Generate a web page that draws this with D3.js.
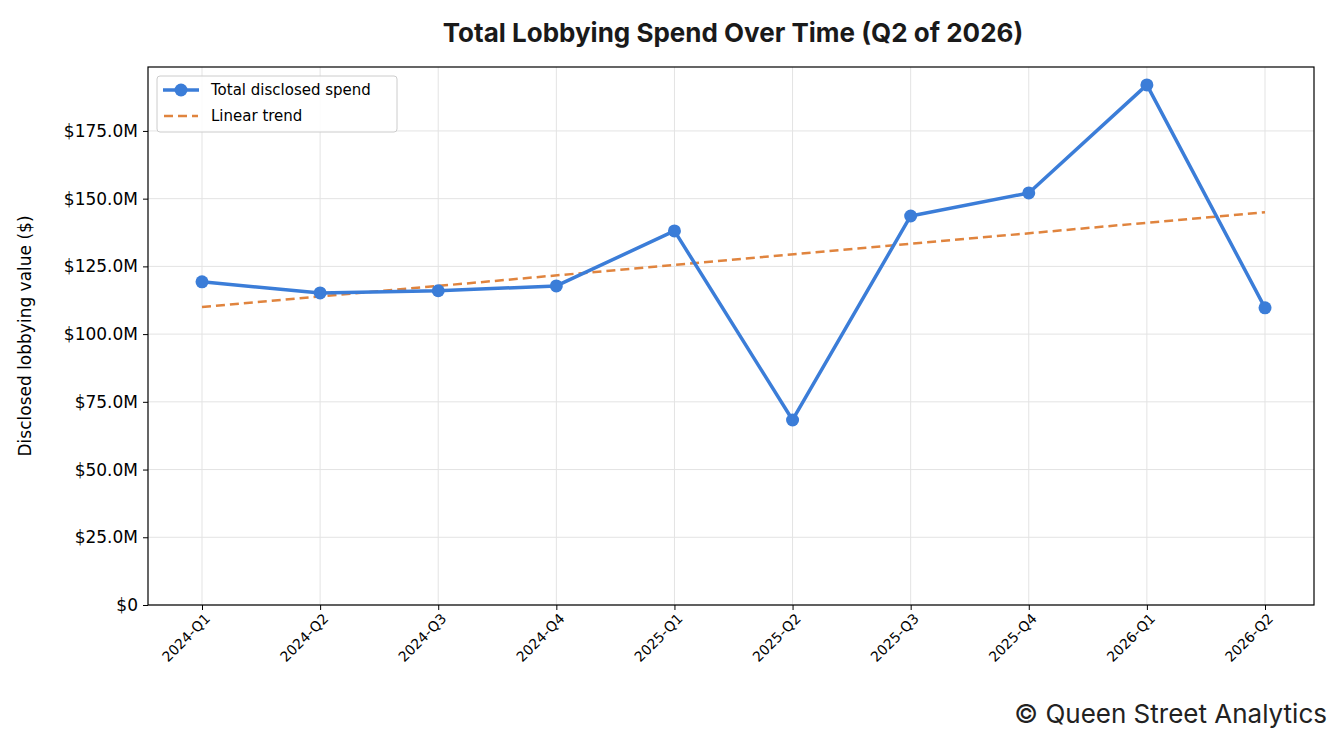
<!DOCTYPE html>
<html><head><meta charset="utf-8">
<script src="https://cdn.jsdelivr.net/npm/d3@7"></script>
<style>body{margin:0;background:#fff}svg{display:block}</style>
</head><body><div id="chart"></div>
<script>
const quarters = ["2024-Q1","2024-Q2","2024-Q3","2024-Q4","2025-Q1","2025-Q2","2025-Q3","2025-Q4","2026-Q1","2026-Q2"];
const spend = [119.3,115.2,116.0,117.8,138.1,68.3,143.6,152.1,192.0,109.7];
const trendEnds = [110.0,145.0];
const yTicks = [0,25,50,75,100,125,150,175];

const W = 1343, H = 745;
const m = {l:148, r:1314, t:67, b:605};
const svg = d3.select("#chart").append("svg").attr("width",W).attr("height",H);
const x = d3.scalePoint().domain(quarters).range([202,1265]);
const y = d3.scaleLinear().domain([0,198.6]).range([m.b,m.t]);
const font = "'DejaVu Sans', 'Bitstream Vera Sans', sans-serif";

// grid
svg.append("g").selectAll("line").data(yTicks).join("line")
  .attr("x1",m.l).attr("x2",m.r).attr("y1",d=>y(d)).attr("y2",d=>y(d))
  .attr("stroke","#e3e3e3").attr("stroke-width",1);
svg.append("g").selectAll("line").data(quarters).join("line")
  .attr("x1",d=>x(d)).attr("x2",d=>x(d)).attr("y1",m.t).attr("y2",m.b)
  .attr("stroke","#e3e3e3").attr("stroke-width",1);

// axes
const yAxis = svg.append("g").attr("transform",`translate(${m.l},0)`)
  .call(d3.axisLeft(y).tickValues(yTicks).tickSize(5).tickPadding(5)
    .tickFormat(d=>d===0?"$0":"$"+d.toFixed(1)+"M"));
yAxis.selectAll("text").style("font-family",font).attr("font-size",17).attr("fill","#000");
const xAxis = svg.append("g").attr("transform",`translate(0,${m.b})`)
  .call(d3.axisBottom(x).tickSize(5));
xAxis.selectAll("text").style("font-family",font).attr("font-size",14).attr("fill","#000")
  .attr("text-anchor","end").attr("dx","-0.3em").attr("dy","0.6em").attr("transform","rotate(-45)");
svg.selectAll(".domain").remove();
svg.selectAll(".tick line").attr("stroke","#000");
svg.append("rect").attr("x",m.l).attr("y",m.t).attr("width",m.r-m.l).attr("height",m.b-m.t)
  .attr("fill","none").attr("stroke","#000").attr("stroke-width",1.2);

// trend
svg.append("line").attr("x1",x(quarters[0])).attr("x2",x(quarters[quarters.length-1]))
  .attr("y1",y(trendEnds[0])).attr("y2",y(trendEnds[1]))
  .attr("stroke","#e0843e").attr("stroke-width",2.5).attr("stroke-dasharray","9,5");

// series
svg.append("path").datum(spend)
  .attr("d",d3.line().x((d,i)=>x(quarters[i])).y(d=>y(d)))
  .attr("fill","none").attr("stroke","#3b7dd8").attr("stroke-width",3.5).attr("stroke-linejoin","round");
svg.append("g").selectAll("circle").data(spend).join("circle")
  .attr("cx",(d,i)=>x(quarters[i])).attr("cy",d=>y(d)).attr("r",6.5).attr("fill","#3b7dd8");

// legend
const lg = svg.append("g");
lg.append("rect").attr("x",157).attr("y",76).attr("width",240).attr("height",56).attr("rx",3)
  .attr("fill","#fff").attr("fill-opacity",0.85).attr("stroke","#ccc");
lg.append("line").attr("x1",163).attr("x2",199).attr("y1",90).attr("y2",90).attr("stroke","#3b7dd8").attr("stroke-width",3.5);
lg.append("circle").attr("cx",181).attr("cy",90).attr("r",6.5).attr("fill","#3b7dd8");
lg.append("line").attr("x1",164).attr("x2",198).attr("y1",116).attr("y2",116).attr("stroke","#e0843e").attr("stroke-width",2.5).attr("stroke-dasharray","9,5");
lg.append("text").attr("x",211).attr("y",95).text("Total disclosed spend").style("font-family",font).attr("font-size",15);
lg.append("text").attr("x",211).attr("y",121).text("Linear trend").style("font-family",font).attr("font-size",15);

// titles
svg.append("text").attr("x",733).attr("y",42).attr("text-anchor","middle")
  .style("font-family","Inter, sans-serif").attr("font-weight",700).attr("font-size",26).attr("fill","#1a1a1a")
  .text("Total Lobbying Spend Over Time (Q2 of 2026)");
svg.append("text").attr("transform","translate(31,336) rotate(-90)").attr("text-anchor","middle")
  .style("font-family",font).attr("font-size",17).text("Disclosed lobbying value ($)");
svg.append("text").attr("x",1327).attr("y",723).attr("text-anchor","end")
  .style("font-family","Inter, sans-serif").attr("font-size",26).attr("fill","#222")
  .text("© Queen Street Analytics");
</script></body></html>
